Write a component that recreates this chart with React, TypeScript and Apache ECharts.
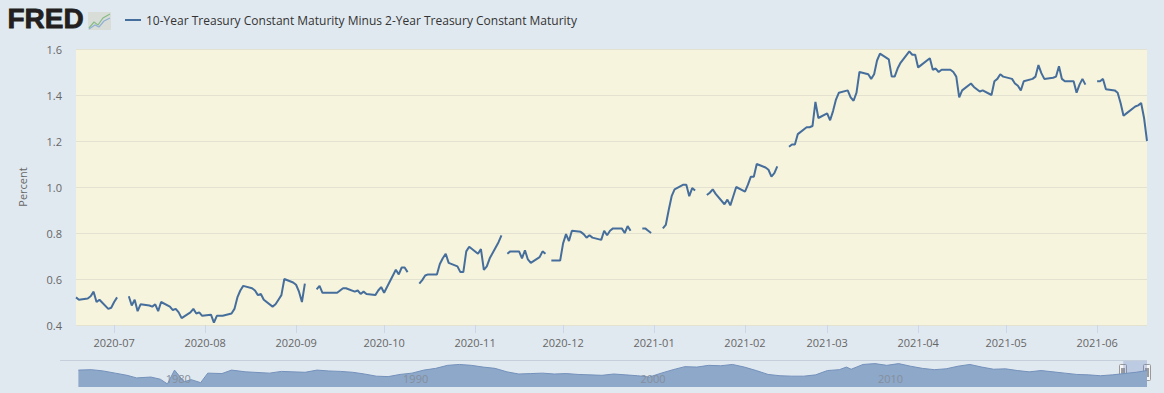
import React, { useEffect, useRef } from "react";
import * as echarts from "echarts";

const seriesName = "10-Year Treasury Constant Maturity Minus 2-Year Treasury Constant Maturity";

const dates = [
  "2020-06-18","2020-06-19","2020-06-22","2020-06-23","2020-06-24","2020-06-25","2020-06-26","2020-06-29","2020-06-30",
  "2020-07-01","2020-07-02","2020-07-03","2020-07-06","2020-07-07","2020-07-08","2020-07-09","2020-07-10","2020-07-13","2020-07-14","2020-07-15","2020-07-16","2020-07-17","2020-07-20","2020-07-21","2020-07-22","2020-07-23","2020-07-24","2020-07-27","2020-07-28","2020-07-29","2020-07-30","2020-07-31",
  "2020-08-03","2020-08-04","2020-08-05","2020-08-06","2020-08-07","2020-08-10","2020-08-11","2020-08-12","2020-08-13","2020-08-14","2020-08-17","2020-08-18","2020-08-19","2020-08-20","2020-08-21","2020-08-24","2020-08-25","2020-08-26","2020-08-27","2020-08-28","2020-08-31",
  "2020-09-01","2020-09-02","2020-09-03","2020-09-04","2020-09-07","2020-09-08","2020-09-09","2020-09-10","2020-09-11","2020-09-14","2020-09-15","2020-09-16","2020-09-17","2020-09-18","2020-09-21","2020-09-22","2020-09-23","2020-09-24","2020-09-25","2020-09-28","2020-09-29","2020-09-30",
  "2020-10-01","2020-10-02","2020-10-05","2020-10-06","2020-10-07","2020-10-08","2020-10-09","2020-10-12","2020-10-13","2020-10-14","2020-10-15","2020-10-16","2020-10-19","2020-10-20","2020-10-21","2020-10-22","2020-10-23","2020-10-26","2020-10-27","2020-10-28","2020-10-29","2020-10-30",
  "2020-11-02","2020-11-03","2020-11-04","2020-11-05","2020-11-06","2020-11-09","2020-11-10","2020-11-11","2020-11-12","2020-11-13","2020-11-16","2020-11-17","2020-11-18","2020-11-19","2020-11-20","2020-11-23","2020-11-24","2020-11-25","2020-11-26","2020-11-27","2020-11-30",
  "2020-12-01","2020-12-02","2020-12-03","2020-12-04","2020-12-07","2020-12-08","2020-12-09","2020-12-10","2020-12-11","2020-12-14","2020-12-15","2020-12-16","2020-12-17","2020-12-18","2020-12-21","2020-12-22","2020-12-23","2020-12-24","2020-12-25","2020-12-28","2020-12-29","2020-12-30","2020-12-31",
  "2021-01-01","2021-01-04","2021-01-05","2021-01-06","2021-01-07","2021-01-08","2021-01-11","2021-01-12","2021-01-13","2021-01-14","2021-01-15","2021-01-18","2021-01-19","2021-01-20","2021-01-21","2021-01-22","2021-01-25","2021-01-26","2021-01-27","2021-01-28","2021-01-29",
  "2021-02-01","2021-02-02","2021-02-03","2021-02-04","2021-02-05","2021-02-08","2021-02-09","2021-02-10","2021-02-11","2021-02-12","2021-02-15","2021-02-16","2021-02-17","2021-02-18","2021-02-19","2021-02-22","2021-02-23","2021-02-24","2021-02-25","2021-02-26",
  "2021-03-01","2021-03-02","2021-03-03","2021-03-04","2021-03-05","2021-03-08","2021-03-09","2021-03-10","2021-03-11","2021-03-12","2021-03-15","2021-03-16","2021-03-17","2021-03-18","2021-03-19","2021-03-22","2021-03-23","2021-03-24","2021-03-25","2021-03-26","2021-03-29","2021-03-30","2021-03-31",
  "2021-04-01","2021-04-02","2021-04-05","2021-04-06","2021-04-07","2021-04-08","2021-04-09","2021-04-12","2021-04-13","2021-04-14","2021-04-15","2021-04-16","2021-04-19","2021-04-20","2021-04-21","2021-04-22","2021-04-23","2021-04-26","2021-04-27","2021-04-28","2021-04-29","2021-04-30",
  "2021-05-03","2021-05-04","2021-05-05","2021-05-06","2021-05-07","2021-05-10","2021-05-11","2021-05-12","2021-05-13","2021-05-14","2021-05-17","2021-05-18","2021-05-19","2021-05-20","2021-05-21","2021-05-24","2021-05-25","2021-05-26","2021-05-27","2021-05-28","2021-05-31",
  "2021-06-01","2021-06-02","2021-06-03","2021-06-04","2021-06-07","2021-06-08","2021-06-09","2021-06-10","2021-06-11","2021-06-14","2021-06-15","2021-06-16","2021-06-17","2021-06-18",
];

const spread = [
  0.52,0.51,0.515,0.525,0.545,0.50,0.51,0.47,0.475,
  0.50,0.52,null,0.525,0.485,0.51,0.46,0.49,0.485,0.48,0.49,0.46,0.50,0.48,0.465,0.47,0.455,0.43,0.455,0.47,0.45,0.455,0.44,
  0.445,0.41,0.44,0.44,0.44,0.45,0.47,0.52,0.55,0.57,0.56,0.55,0.53,0.535,0.51,0.48,0.49,0.51,0.53,0.60,0.585,
  0.575,0.545,0.50,0.58,null,0.555,0.57,0.54,0.54,0.54,0.54,0.55,0.56,0.56,0.545,0.55,0.535,0.545,0.535,0.53,0.55,0.565,
  0.54,0.565,0.64,0.62,0.65,0.65,0.63,null,0.58,0.595,0.615,0.62,0.62,0.665,0.69,0.71,0.67,0.655,0.63,0.63,0.72,0.74,
  0.71,0.73,0.64,0.655,0.69,0.76,0.79,null,0.71,0.72,0.72,0.69,0.725,0.685,0.67,0.695,0.72,0.71,null,0.68,0.68,
  0.755,0.795,0.765,0.81,0.805,0.795,0.78,0.79,0.78,0.77,0.81,0.79,0.81,0.82,0.82,0.80,0.83,0.81,null,0.82,0.82,0.81,0.80,
  null,0.82,0.835,0.90,0.96,0.99,1.01,1.01,0.96,0.995,0.985,null,0.965,0.975,0.99,0.97,0.925,0.945,0.92,0.96,1.00,
  0.98,1.01,1.045,1.045,1.10,1.085,1.075,1.045,1.06,1.09,null,1.175,1.185,1.185,1.23,1.26,1.26,1.265,1.37,1.30,
  1.32,1.29,1.33,1.38,1.41,1.42,1.39,1.375,1.41,1.50,1.49,1.47,1.49,1.55,1.58,1.555,1.48,1.48,1.515,1.54,1.59,1.575,1.575,
  1.52,1.53,1.56,1.51,1.515,1.50,1.51,1.51,1.50,1.48,1.39,1.42,1.45,1.435,1.425,1.415,1.42,1.40,1.46,1.47,1.49,1.48,
  1.47,1.45,1.44,1.42,1.46,1.47,1.48,1.53,1.495,1.47,1.475,1.48,1.525,1.47,1.46,1.46,1.41,1.445,1.47,1.445,null,
  1.46,1.46,1.47,1.425,1.42,1.41,1.365,1.31,1.32,1.35,1.355,1.365,1.30,1.20,
];

const monthTicks = [
  "2020-07-01","2020-08-01","2020-09-01","2020-10-01","2020-11-01","2020-12-01",
  "2021-01-01","2021-02-01","2021-03-01","2021-04-01","2021-05-01","2021-06-01",
];
const axisStart = "2020-06-18";
const axisEnd = "2021-06-18";

const navYears = [
  1976.45,1977.0,1977.5,1978.0,1978.5,1978.9,1979.5,1979.9,1980.2,1980.5,1980.9,1981.2,1981.6,1981.9,
  1982.5,1982.9,1983.5,1984.5,1985.0,1986.0,1986.5,1987.0,1987.5,1988.0,1988.5,1989.0,1989.5,1990.0,
  1990.5,1991.0,1991.5,1992.0,1992.5,1993.0,1993.5,1994.0,1994.5,1995.0,1995.5,1996.0,1996.5,1997.0,
  1997.5,1998.0,1998.5,1999.0,1999.5,2000.0,2000.5,2001.0,2001.5,2002.0,2002.5,2003.0,2003.5,2004.0,
  2004.5,2005.0,2005.5,2006.0,2006.5,2007.0,2007.5,2008.0,2008.5,2008.8,2009.0,2009.5,2010.0,2010.5,
  2011.0,2011.5,2012.0,2012.5,2013.0,2013.5,2014.0,2014.5,2015.0,2015.5,2016.0,2016.5,2017.0,2017.5,
  2018.0,2018.5,2019.0,2019.5,2020.0,2020.5,2021.0,2021.46,
];
const navSpread = [
  1.3,1.4,1.1,0.6,0.1,-0.5,-0.3,-0.8,-1.9,1.3,-1.4,-0.9,-1.6,0.6,
  0.5,1.3,0.9,0.6,1.0,0.8,1.3,1.1,1.0,0.8,0.4,-0.1,-0.2,0.3,
  0.6,1.3,1.7,2.4,2.6,2.4,2.0,1.7,0.9,0.4,0.5,0.6,0.4,0.5,
  0.3,0.2,0.1,0.4,0.2,0.0,-0.3,0.6,1.4,2.1,2.0,2.4,2.3,2.6,
  2.0,1.2,0.3,0.0,-0.1,-0.1,0.2,1.2,1.4,2.0,1.5,2.6,2.8,2.4,
  2.8,2.2,1.7,1.4,1.6,2.2,2.6,2.0,1.5,1.6,1.2,0.9,1.2,0.9,
  0.6,0.3,0.2,0.0,0.2,0.5,0.8,1.2,
];
const navLabels = [1980, 1990, 2000, 2010];
const navSelection = [2020.46, 2021.46];

function toLocal(s: string): number {
  const [y, m, d] = s.split("-").map(Number);
  return new Date(y, m - 1, d).getTime();
}
function fmtMonth(v: number): string {
  const d = new Date(v + 12 * 3600 * 1000);
  const m = d.getMonth() + 1;
  return `${d.getFullYear()}-${m < 10 ? "0" + m : m}`;
}

export default function App() {
  const ref = useRef<HTMLDivElement>(null);
  useEffect(() => {
    if (!ref.current) return;
    const chart = echarts.init(ref.current, null, { renderer: "svg" });
    const tickTs = monthTicks.map(toLocal);
    const mainData = dates.map((d, i) => [toLocal(d), spread[i]]);
    const navData = navYears.map((y, i) => [y, navSpread[i]]);
    const lineColor = "#466e9c";

    chart.setOption({
      animation: false,
      backgroundColor: "#e1e9f0",
      textStyle: { fontFamily: '"Open Sans", sans-serif' },
      legend: {
        left: 120,
        top: 9,
        itemWidth: 16,
        itemHeight: 2,
        icon: "rect",
        selectedMode: false,
        data: [seriesName],
        textStyle: { fontSize: 12, color: "#333", fontFamily: '"Open Sans", sans-serif' },
      },
      grid: [
        { left: 76, right: 17, top: 49, bottom: 68, show: true, backgroundColor: "#f6f4dd", borderWidth: 0 },
        { left: 76, right: 17, top: 361, height: 26, show: false },
      ],
      xAxis: [
        {
          type: "value",
          gridIndex: 0,
          min: toLocal(axisStart),
          max: toLocal(axisEnd),
          axisLine: { show: false },
          axisTick: { show: true, customValues: tickTs, length: 8, lineStyle: { color: "#ccd6eb" } },
          axisLabel: { customValues: tickTs, formatter: fmtMonth, fontSize: 11, color: "#666", margin: 12 },
          splitLine: { show: false },
        },
        {
          type: "value",
          gridIndex: 1,
          z: 10,
          min: 1976.35,
          max: 2021.46,
          axisLine: { show: false },
          axisTick: { show: false },
          splitLine: { show: false },
          axisLabel: {
            inside: true,
            customValues: navLabels,
            formatter: (v: number) => String(Math.round(v)),
            align: "left",
            padding: [0, 0, 0, 3],
            fontSize: 11,
            color: "#858f9c",
            margin: 3,
          },
        },
      ],
      yAxis: [
        {
          type: "value",
          gridIndex: 0,
          min: 0.4,
          max: 1.6,
          interval: 0.2,
          name: "Percent",
          nameLocation: "middle",
          nameGap: 48,
          nameRotate: 90,
          nameTextStyle: { fontSize: 11, color: "#666" },
          axisLabel: { formatter: (v: number) => v.toFixed(1), fontSize: 11, color: "#666", margin: 14 },
          axisLine: { show: false },
          axisTick: { show: false },
          splitLine: { show: true, lineStyle: { color: "#e3e1cf" } },
        },
        { type: "value", gridIndex: 1, min: -2.6, max: 3.4, show: false },
      ],
      series: [
        {
          name: seriesName,
          type: "line",
          data: mainData,
          showSymbol: false,
          connectNulls: false,
          silent: true,
          lineStyle: { width: 2, color: lineColor },
          itemStyle: { color: lineColor },
        },
        {
          type: "line",
          xAxisIndex: 1,
          yAxisIndex: 1,
          data: navData,
          showSymbol: false,
          silent: true,
          lineStyle: { width: 1, color: "#7491bb" },
          itemStyle: { color: "#7491bb" },
          areaStyle: { color: "#8ea8c9", opacity: 1, origin: "start" },
          markArea: {
            silent: true,
            itemStyle: { color: "rgba(102,133,194,0.3)" },
            data: [[{ xAxis: navSelection[0] }, { xAxis: navSelection[1] }]],
          },
        },
      ],
      graphic: [
        {
          type: "text",
          left: 7,
          top: 4,
          style: {
            text: "FRED",
            fontSize: 28,
            fontWeight: "bold",
            fontFamily: '"Liberation Sans", Arial, sans-serif',
            fill: "#231f20",
            stroke: "#231f20",
            lineWidth: 0.8,
          },
        },
        { type: "rect", shape: { x: 88, y: 12, width: 23, height: 18 }, style: { fill: "#d9ddd8" } },
        {
          type: "polyline",
          shape: { points: [[89, 28], [94, 22], [98, 25], [103, 18], [110, 14]] },
          style: { stroke: "#86bd84", lineWidth: 1.2, fill: "none" },
        },
        {
          type: "polyline",
          shape: { points: [[89, 29], [95, 25], [99, 27], [104, 21], [110, 18]] },
          style: { stroke: "#8fb0d6", lineWidth: 1.2, fill: "none" },
        },
        { type: "line", shape: { x1: 60, y1: 360.5, x2: 1147, y2: 360.5 }, style: { stroke: "#c5cfdb", lineWidth: 1 } },
        { type: "rect", shape: { x: 1119.5, y: 364.5, width: 7, height: 16, r: 1 }, style: { fill: "#f5f5f5", stroke: "#999", lineWidth: 1 } },
        { type: "line", shape: { x1: 1122, y1: 368, x2: 1122, y2: 377 }, style: { stroke: "#444", lineWidth: 1 } },
        { type: "line", shape: { x1: 1124, y1: 368, x2: 1124, y2: 377 }, style: { stroke: "#444", lineWidth: 1 } },
        { type: "rect", shape: { x: 1143.5, y: 364.5, width: 7, height: 16, r: 1 }, style: { fill: "#f5f5f5", stroke: "#999", lineWidth: 1 } },
        { type: "line", shape: { x1: 1146, y1: 368, x2: 1146, y2: 377 }, style: { stroke: "#444", lineWidth: 1 } },
        { type: "line", shape: { x1: 1148, y1: 368, x2: 1148, y2: 377 }, style: { stroke: "#444", lineWidth: 1 } },
      ],
    });
    return () => chart.dispose();
  }, []);
  return <div ref={ref} style={{ position: "absolute", left: 0, top: 0, width: 1164, height: 393 }} />;
}
